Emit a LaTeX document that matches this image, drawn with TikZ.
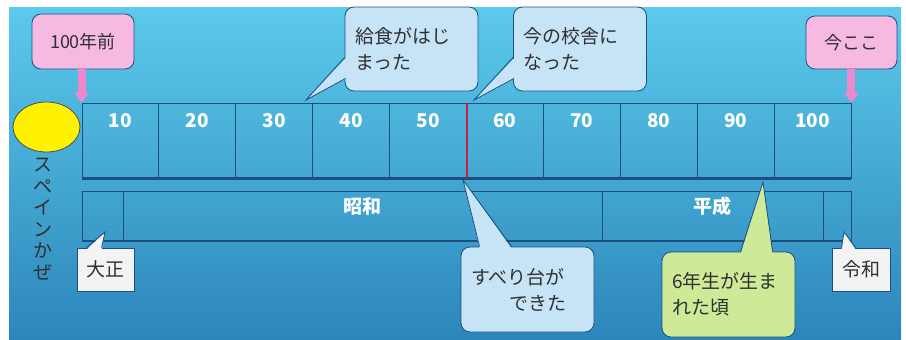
\documentclass[tikz,border=0pt]{standalone}
\usepackage{fontspec}
\setmainfont{Noto Sans CJK JP}
\usepackage{tikz}
\usetikzlibrary{arrows.meta,positioning,shapes.geometric,calc}
\definecolor{bgtop}{RGB}{92,202,236}
\definecolor{bgbot}{RGB}{44,134,186}
\definecolor{linedark}{RGB}{28,78,128}
\definecolor{callblue}{RGB}{199,228,247}
\definecolor{callgreen}{RGB}{206,234,152}
\definecolor{callpink}{RGB}{246,186,226}
\definecolor{boxwhite}{RGB}{243,243,243}
\definecolor{arrowpink}{RGB}{236,136,204}
\definecolor{redmark}{RGB}{196,32,64}
\definecolor{textgray}{RGB}{48,48,48}

\begin{document}
\begin{tikzpicture}[
  x=1pt,y=-1pt,
  cellbox/.style={rectangle,draw=linedark,line width=0.9pt,
                  minimum width=76.9pt,minimum height=75pt,inner sep=0pt},
  erabox/.style={rectangle,draw=linedark,line width=0.9pt,
                 minimum height=50pt,inner sep=0pt,outer sep=0pt},
  yearnum/.style={font=\fontsize{19}{22}\selectfont\bfseries,text=white,inner sep=0pt},
  eraname/.style={font=\fontsize{19}{22}\selectfont\bfseries,text=white,inner sep=0pt},
  thickline/.style={draw=linedark,line width=2.6pt},
  redline/.style={draw=redmark,line width=2pt},
  bluecall/.style={rectangle,rounded corners=9pt,draw=linedark,line width=0.8pt,
                   fill=callblue,text=textgray,font=\fontsize{19}{26}\selectfont,
                   align=left,text width=113pt,inner xsep=10pt,inner ysep=0pt},
  greencall/.style={bluecall,fill=callgreen},
  pinkcall/.style={rectangle,rounded corners=9pt,draw=linedark,line width=0.8pt,
                   fill=callpink,text=textgray,font=\fontsize{18}{22}\selectfont,inner sep=0pt},
  erasign/.style={rectangle,draw=linedark,line width=0.8pt,fill=boxwhite,text=textgray,
                  font=\fontsize{19}{22}\selectfont,inner sep=0pt,
                  minimum width=57pt,minimum height=43pt},
  ptrline/.style={draw=linedark,line width=0.8pt,line join=miter},
  pinkarrow/.style={-{Triangle[width=15pt,length=10pt]},line width=8pt,draw=arrowpink},
  vtext/.style={align=center,text=textgray,font=\fontsize{19}{21.5}\selectfont,inner sep=0pt}
]
\useasboundingbox (0,0) rectangle (906,340);
%% Fond
\shade[top color=bgtop,bottom color=bgbot] (9,7) rectangle (901,340);
%% Années
\foreach \i in {1,...,10}{
  \node[cellbox] (c\i) at ({82+(\i-0.5)*76.9},140.5) {};
  \node[yearnum] (n\i) at ($(c\i.north)+(0,18)$) {\i0};
}
\draw[thickline] (c1.south west) -- (c10.south east);
\draw[redline] (c5.north east) -- (c5.south east);
%% Ères
\node[erabox,minimum width=41pt] (taisho) at (102.5,216) {};
\node[erabox,minimum width=479pt,right=0pt of taisho] (showa) {};
\node[erabox,minimum width=221pt,right=0pt of showa] (heisei) {};
\node[erabox,minimum width=28pt,right=0pt of heisei] (reiwa) {};
\draw[thickline] (taisho.south west) -- (reiwa.south east);
\node[eraname] (lshowa) at ($(showa.center)+(0,-10)$) {昭和};
\node[eraname] (lheisei) at ($(heisei.center)+(0,-10)$) {平成};
%% Spanish flu
\node[ellipse,draw=black!70,line width=0.8pt,fill=yellow,
      minimum width=67pt,minimum height=50pt] (flu) at (46.5,127) {};
\node[vtext] (flutxt) at (43,219) {ス\\ペ\\イ\\ン\\か\\ぜ};
%% Repères
\node[pinkcall,minimum width=102pt,minimum height=55pt] (p100) at (83,41.5) {100年前};
\node[pinkcall,minimum width=91pt,minimum height=53pt] (pnow) at (851.5,42.5) {今ここ};
\draw[pinkarrow] (p100.south -| c1.north west) -- (c1.north west);
\draw[pinkarrow] (pnow.south -| c10.north east) -- (c10.north east);
%% Bulles
\coordinate (tipkyu) at (306,100);
\coordinate (tipkou) at (474,100);
\coordinate (tipsub) at (463,180);
\coordinate (tipsix) at (763,182);
\coordinate (tiptai) at (105,232);
\coordinate (tiprei) at (844,232);
\node[bluecall,minimum height=84pt] (kyu) at (411.5,49) {給食がはじ\\まった};
\fill[callblue] ($(kyu.south west)+(2,-34)$) -- (tipkyu) -- ($(kyu.south west)+(2,-13)$) -- cycle;
\draw[ptrline] ($(kyu.south west)+(0,-34)$) -- (tipkyu) -- ($(kyu.south west)+(1,-13)$);
\node[bluecall,minimum height=84pt] (kou) at (580,49) {今の校舎に\\なった};
\fill[callblue] ($(kou.south west)+(2,-34)$) -- (tipkou) -- ($(kou.south west)+(2,-13)$) -- cycle;
\draw[ptrline] ($(kou.south west)+(0,-34)$) -- (tipkou) -- ($(kou.south west)+(1,-13)$);
\node[bluecall,minimum height=85pt] (sub) at (527.5,289.5) {すべり台が\\\hspace*{2em}できた};
\fill[callblue] ($(sub.north west)+(19,2)$) -- (tipsub) -- ($(sub.north west)+(51,2)$) -- cycle;
\draw[ptrline] ($(sub.north west)+(19,0)$) -- (tipsub) -- ($(sub.north west)+(51,0)$);
\node[greencall,minimum height=85pt] (six) at (728.5,294.5) {6年生が生ま\\れた頃};
\fill[callgreen] ($(six.north west)+(79,2)$) -- (tipsix) -- ($(six.north west)+(111,2)$) -- cycle;
\draw[ptrline] ($(six.north west)+(79,0)$) -- (tipsix) -- ($(six.north west)+(111,0)$);
\node[erasign] (ltai) at (105.5,269.5) {大正};
\fill[boxwhite] ($(ltai.north west)+(10,2)$) -- (tiptai) -- ($(ltai.north west)+(25,2)$) -- cycle;
\draw[ptrline] ($(ltai.north west)+(10,0)$) -- (tiptai) -- ($(ltai.north west)+(25,0)$);
\node[erasign,minimum width=58pt] (lrei) at (861,269.5) {令和};
\fill[boxwhite] ($(lrei.north west)+(10,2)$) -- (tiprei) -- ($(lrei.north west)+(24,2)$) -- cycle;
\draw[ptrline] ($(lrei.north west)+(10,0)$) -- (tiprei) -- ($(lrei.north west)+(24,0)$);
\end{tikzpicture}
\end{document}
